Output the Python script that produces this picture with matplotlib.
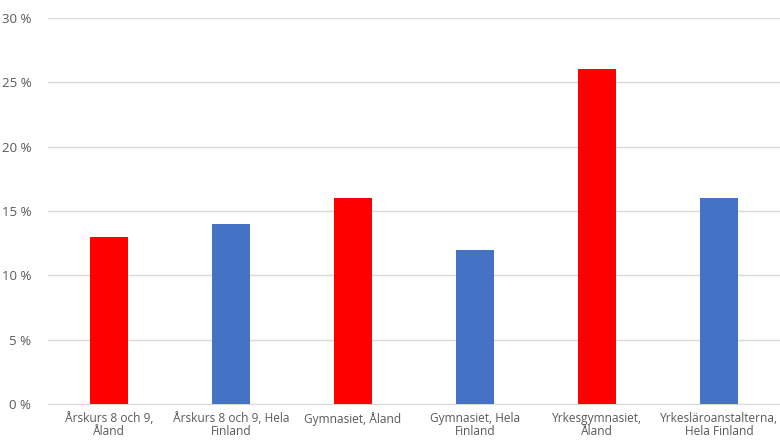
import matplotlib
matplotlib.use("Agg")
import matplotlib.pyplot as plt
from matplotlib.ticker import FuncFormatter

categories = ["Årskurs 8 och 9,\nÅland", "Årskurs 8 och 9, Hela\nFinland", "Gymnasiet, Åland",
              "Gymnasiet, Hela\nFinland", "Yrkesgymnasiet,\nÅland", "Yrkesläroanstalterna,\nHela Finland"]
values = [13, 14, 16, 12, 26, 16]
colors = ["#FF0000", "#4472C4", "#FF0000", "#4472C4", "#FF0000", "#4472C4"]
yticks = [0, 5, 10, 15, 20, 25, 30]

plt.rcParams['font.family'] = ['Open Sans', 'DejaVu Sans']
fig = plt.figure(figsize=(7.8, 4.44), dpi=100)
ax = fig.add_axes([48/780, 1-404/444, 1-48/780, (404-18)/444])
x = list(range(len(categories)))
ax.bar(x, values, width=0.31, color=colors, zorder=3)
ax.set_xlim(-0.5, len(categories)-0.5)
ax.set_ylim(0, 30)
ax.set_yticks(yticks)
ax.yaxis.set_major_formatter(FuncFormatter(lambda v, p: f"{int(v)} %"))
ax.grid(axis='y', color='#d9d9d9', linewidth=1, zorder=0)
for s in ['top', 'right', 'left']:
    ax.spines[s].set_visible(False)
ax.spines['bottom'].set_color('#d9d9d9')
ax.set_xticks(x)
ax.set_xticklabels(categories, fontsize=8.6, color='#595959', linespacing=1.0)
ax.tick_params(axis='x', length=0, pad=6)
ax.tick_params(axis='y', length=0, pad=12, labelsize=9.5, labelcolor='#595959')
fig.savefig("out.png", dpi=100)
